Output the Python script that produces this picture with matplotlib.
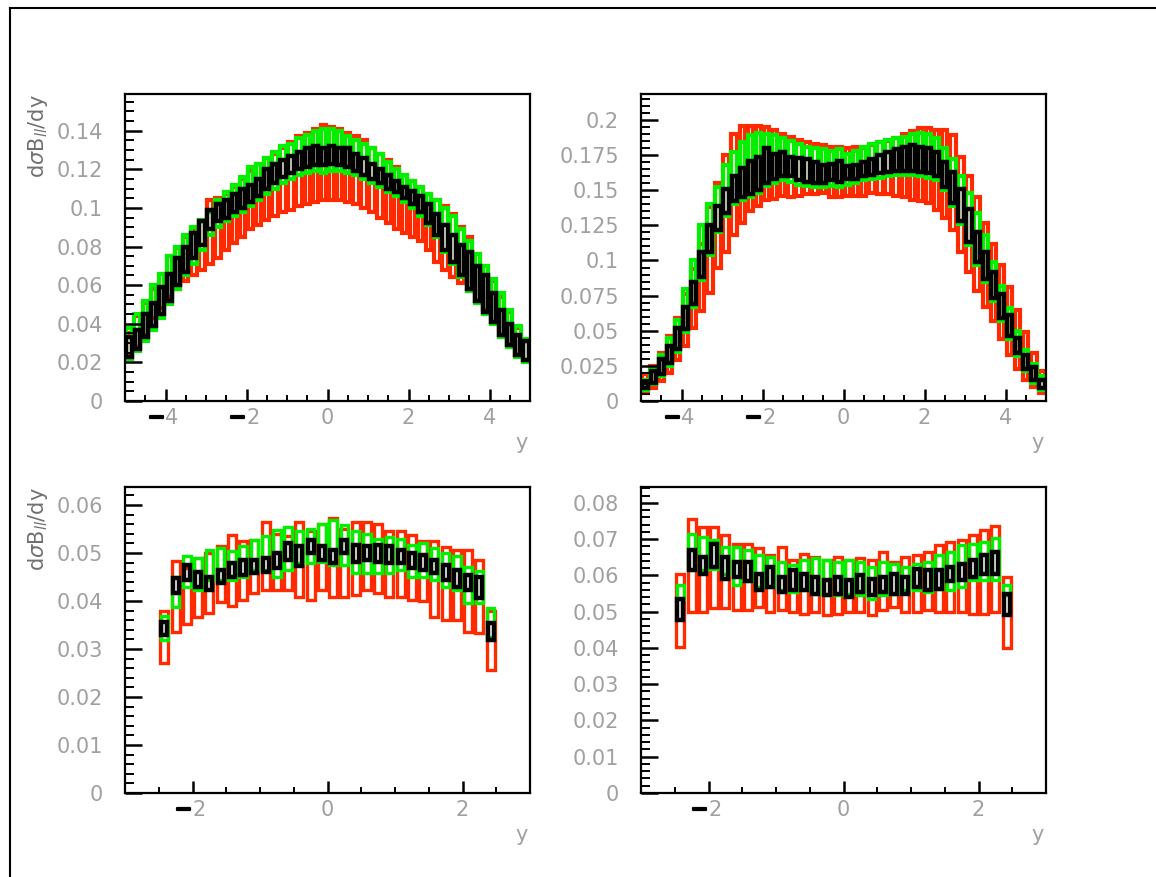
import matplotlib

matplotlib.use("Agg")
import matplotlib.patheffects as pe
import matplotlib.pyplot as plt
import matplotlib.transforms as mtrans
import numpy as np
from matplotlib.lines import Line2D
from matplotlib.ticker import FuncFormatter, MultipleLocator

W, H = 1156, 877
RED, GREEN, BLACK = "#ff2a00", "#00f000", "#000000"
LABEL_GREY = "#a0a0a0"

# --- binning ---------------------------------------------------------------
TOP_EDGES = np.linspace(-5, 5, 51)       # 50 bins of 0.2
BOT_EDGES = np.linspace(-2.5, 2.5, 31)   # 30 bins of 1/6

# --- top-left panel (lower / upper edge of each box) -----------------------
TL_RED_LO = [0.024, 0.028, 0.034, 0.043, 0.048, 0.054, 0.058, 0.062, 0.065, 0.068,
             0.071, 0.074, 0.078, 0.082, 0.085, 0.089, 0.091, 0.094, 0.096, 0.098,
             0.099, 0.101, 0.102, 0.103, 0.104, 0.104, 0.104, 0.103, 0.102, 0.100,
             0.098, 0.095, 0.092, 0.089, 0.087, 0.085, 0.083, 0.078, 0.072, 0.068,
             0.064, 0.061, 0.057, 0.052, 0.047, 0.041, 0.034, 0.029, 0.024, 0.021]
TL_RED_HI = [0.035, 0.044, 0.051, 0.058, 0.066, 0.075, 0.079, 0.085, 0.089, 0.093,
             0.104, 0.105, 0.107, 0.111, 0.115, 0.119, 0.123, 0.126, 0.128, 0.131,
             0.134, 0.137, 0.139, 0.141, 0.143, 0.142, 0.141, 0.139, 0.137, 0.135,
             0.131, 0.128, 0.125, 0.121, 0.117, 0.114, 0.111, 0.107, 0.104, 0.101,
             0.097, 0.090, 0.085, 0.076, 0.070, 0.062, 0.054, 0.046, 0.038, 0.031]
TL_GRN_LO = [0.022, 0.026, 0.031, 0.037, 0.043, 0.050, 0.058, 0.065, 0.071, 0.078,
             0.086, 0.090, 0.093, 0.096, 0.098, 0.101, 0.104, 0.107, 0.110, 0.113,
             0.115, 0.117, 0.118, 0.119, 0.118, 0.119, 0.119, 0.118, 0.117, 0.115,
             0.113, 0.111, 0.108, 0.106, 0.103, 0.100, 0.096, 0.091, 0.085, 0.077,
             0.071, 0.064, 0.057, 0.051, 0.045, 0.040, 0.033, 0.028, 0.023, 0.020]
TL_GRN_HI = [0.038, 0.045, 0.052, 0.060, 0.066, 0.075, 0.080, 0.086, 0.090, 0.094,
             0.098, 0.104, 0.108, 0.112, 0.116, 0.121, 0.123, 0.126, 0.129, 0.132,
             0.133, 0.136, 0.138, 0.140, 0.141, 0.141, 0.140, 0.137, 0.135, 0.133,
             0.131, 0.128, 0.124, 0.120, 0.117, 0.114, 0.111, 0.107, 0.104, 0.100,
             0.096, 0.089, 0.083, 0.076, 0.070, 0.063, 0.056, 0.047, 0.039, 0.032]
TL_BLK_LO = [0.023, 0.027, 0.033, 0.039, 0.045, 0.052, 0.060, 0.067, 0.074, 0.081,
             0.089, 0.093, 0.095, 0.098, 0.100, 0.103, 0.106, 0.110, 0.113, 0.116,
             0.118, 0.120, 0.121, 0.122, 0.122, 0.123, 0.122, 0.121, 0.119, 0.117,
             0.115, 0.113, 0.110, 0.108, 0.105, 0.102, 0.098, 0.092, 0.086, 0.078,
             0.072, 0.065, 0.058, 0.052, 0.046, 0.041, 0.034, 0.029, 0.024, 0.021]
TL_BLK_HI = [0.033, 0.037, 0.045, 0.051, 0.059, 0.066, 0.074, 0.080, 0.087, 0.093,
             0.099, 0.102, 0.104, 0.107, 0.110, 0.112, 0.115, 0.120, 0.123, 0.125,
             0.127, 0.129, 0.131, 0.132, 0.131, 0.132, 0.131, 0.131, 0.128, 0.126,
             0.123, 0.120, 0.117, 0.114, 0.111, 0.109, 0.106, 0.102, 0.097, 0.091,
             0.086, 0.081, 0.077, 0.070, 0.065, 0.056, 0.047, 0.040, 0.034, 0.031]

# --- top-right panel -------------------------------------------------------
TR_RED_LO = [0.006, 0.009, 0.014, 0.020, 0.029, 0.039, 0.052, 0.064, 0.077, 0.095,
             0.106, 0.118, 0.127, 0.135, 0.139, 0.143, 0.144, 0.146, 0.145, 0.146,
             0.147, 0.147, 0.148, 0.145, 0.145, 0.146, 0.146, 0.146, 0.148, 0.147,
             0.147, 0.146, 0.145, 0.143, 0.142, 0.141, 0.136, 0.130, 0.122, 0.106,
             0.092, 0.078, 0.067, 0.057, 0.044, 0.033, 0.023, 0.015, 0.010, 0.006]
TR_RED_HI = [0.019, 0.025, 0.034, 0.046, 0.059, 0.076, 0.094, 0.112, 0.138, 0.155,
             0.175, 0.190, 0.196, 0.196, 0.196, 0.195, 0.193, 0.190, 0.188, 0.186,
             0.184, 0.183, 0.182, 0.181, 0.181, 0.180, 0.181, 0.180, 0.182, 0.184,
             0.185, 0.187, 0.190, 0.192, 0.194, 0.194, 0.193, 0.193, 0.189, 0.174,
             0.160, 0.145, 0.127, 0.112, 0.097, 0.081, 0.065, 0.049, 0.034, 0.021]
TR_GRN_LO = [0.008, 0.012, 0.018, 0.025, 0.035, 0.049, 0.067, 0.086, 0.104, 0.120,
             0.132, 0.140, 0.143, 0.145, 0.148, 0.153, 0.155, 0.157, 0.156, 0.154,
             0.153, 0.152, 0.152, 0.153, 0.152, 0.154, 0.155, 0.157, 0.158, 0.159,
             0.160, 0.161, 0.161, 0.161, 0.160, 0.159, 0.157, 0.150, 0.139, 0.126,
             0.111, 0.097, 0.085, 0.071, 0.057, 0.044, 0.032, 0.021, 0.013, 0.008]
TR_GRN_HI = [0.015, 0.023, 0.033, 0.045, 0.058, 0.080, 0.100, 0.125, 0.140, 0.152,
             0.168, 0.177, 0.184, 0.189, 0.191, 0.190, 0.189, 0.187, 0.185, 0.183,
             0.181, 0.180, 0.179, 0.178, 0.179, 0.176, 0.178, 0.181, 0.183, 0.184,
             0.186, 0.187, 0.188, 0.190, 0.191, 0.190, 0.187, 0.180, 0.172, 0.160,
             0.148, 0.134, 0.118, 0.099, 0.082, 0.066, 0.050, 0.036, 0.026, 0.018]
TR_BLK_LO = [0.009, 0.013, 0.019, 0.027, 0.037, 0.051, 0.069, 0.088, 0.106, 0.122,
             0.134, 0.142, 0.145, 0.147, 0.150, 0.155, 0.158, 0.160, 0.160, 0.157,
             0.156, 0.155, 0.155, 0.157, 0.156, 0.158, 0.158, 0.160, 0.161, 0.162,
             0.163, 0.164, 0.164, 0.164, 0.163, 0.162, 0.160, 0.152, 0.141, 0.128,
             0.113, 0.099, 0.087, 0.073, 0.059, 0.046, 0.034, 0.023, 0.015, 0.009]
TR_BLK_HI = [0.013, 0.021, 0.030, 0.039, 0.052, 0.067, 0.085, 0.106, 0.125, 0.139,
             0.151, 0.160, 0.166, 0.171, 0.174, 0.180, 0.176, 0.177, 0.174, 0.173,
             0.172, 0.170, 0.168, 0.169, 0.171, 0.167, 0.168, 0.170, 0.172, 0.175,
             0.177, 0.179, 0.181, 0.182, 0.181, 0.180, 0.177, 0.170, 0.163, 0.151,
             0.137, 0.120, 0.106, 0.092, 0.076, 0.061, 0.045, 0.033, 0.024, 0.015]

# --- bottom-left panel -----------------------------------------------------
BL_RED_LO = [0.0270, 0.0336, 0.0353, 0.0367, 0.0374, 0.0398, 0.0390, 0.0402, 0.0416, 0.0423,
             0.0423, 0.0423, 0.0409, 0.0402, 0.0423, 0.0409, 0.0409, 0.0413, 0.0423, 0.0416,
             0.0409, 0.0409, 0.0402, 0.0399, 0.0367, 0.0360, 0.0360, 0.0336, 0.0333, 0.0256]
BL_RED_HI = [0.0380, 0.0483, 0.0468, 0.0490, 0.0500, 0.0515, 0.0537, 0.0525, 0.0527, 0.0565,
             0.0540, 0.0535, 0.0565, 0.0545, 0.0560, 0.0572, 0.0550, 0.0565, 0.0565, 0.0560,
             0.0545, 0.0545, 0.0537, 0.0524, 0.0524, 0.0513, 0.0506, 0.0506, 0.0485, 0.0380]
BL_GRN_LO = [0.0319, 0.0388, 0.0430, 0.0423, 0.0444, 0.0444, 0.0444, 0.0451, 0.0465, 0.0465,
             0.0451, 0.0465, 0.0479, 0.0479, 0.0482, 0.0475, 0.0475, 0.0458, 0.0458, 0.0458,
             0.0458, 0.0465, 0.0451, 0.0451, 0.0444, 0.0430, 0.0423, 0.0395, 0.0395, 0.0326]
BL_GRN_HI = [0.0368, 0.0450, 0.0493, 0.0490, 0.0507, 0.0510, 0.0505, 0.0515, 0.0527, 0.0535,
             0.0548, 0.0555, 0.0545, 0.0550, 0.0560, 0.0569, 0.0558, 0.0545, 0.0540, 0.0530,
             0.0534, 0.0530, 0.0517, 0.0520, 0.0510, 0.0500, 0.0493, 0.0470, 0.0462, 0.0385]
BL_BLK_LO = [0.0329, 0.0416, 0.0444, 0.0430, 0.0423, 0.0437, 0.0451, 0.0454, 0.0458, 0.0461,
             0.0468, 0.0486, 0.0472, 0.0500, 0.0486, 0.0479, 0.0500, 0.0482, 0.0486, 0.0482,
             0.0479, 0.0479, 0.0468, 0.0465, 0.0458, 0.0444, 0.0430, 0.0423, 0.0406, 0.0319]
BL_BLK_HI = [0.0357, 0.0447, 0.0475, 0.0461, 0.0451, 0.0465, 0.0479, 0.0486, 0.0486, 0.0489,
             0.0500, 0.0521, 0.0514, 0.0528, 0.0514, 0.0507, 0.0528, 0.0517, 0.0514, 0.0517,
             0.0514, 0.0507, 0.0500, 0.0496, 0.0486, 0.0475, 0.0465, 0.0454, 0.0451, 0.0354]

# --- bottom-right panel ----------------------------------------------------
BR_RED_LO = [0.0403, 0.0500, 0.0500, 0.0509, 0.0509, 0.0504, 0.0504, 0.0513, 0.0500, 0.0504,
             0.0500, 0.0495, 0.0500, 0.0491, 0.0495, 0.0500, 0.0500, 0.0491, 0.0504, 0.0513,
             0.0500, 0.0500, 0.0504, 0.0500, 0.0500, 0.0500, 0.0495, 0.0495, 0.0500, 0.0399]
BR_RED_HI = [0.0605, 0.0757, 0.0734, 0.0734, 0.0712, 0.0688, 0.0688, 0.0675, 0.0656, 0.0679,
             0.0643, 0.0660, 0.0651, 0.0642, 0.0651, 0.0642, 0.0647, 0.0642, 0.0665, 0.0638,
             0.0651, 0.0656, 0.0665, 0.0683, 0.0692, 0.0697, 0.0711, 0.0725, 0.0737, 0.0596]
BR_GRN_LO = [0.0536, 0.0614, 0.0614, 0.0619, 0.0605, 0.0573, 0.0586, 0.0568, 0.0568, 0.0559,
             0.0555, 0.0559, 0.0550, 0.0545, 0.0545, 0.0550, 0.0545, 0.0536, 0.0545, 0.0550,
             0.0559, 0.0559, 0.0555, 0.0564, 0.0559, 0.0568, 0.0587, 0.0587, 0.0587, 0.0545]
BR_GRN_HI = [0.0573, 0.0715, 0.0706, 0.0697, 0.0679, 0.0679, 0.0669, 0.0656, 0.0651, 0.0637,
             0.0628, 0.0642, 0.0647, 0.0642, 0.0637, 0.0642, 0.0637, 0.0624, 0.0637, 0.0633,
             0.0624, 0.0633, 0.0637, 0.0656, 0.0665, 0.0683, 0.0688, 0.0693, 0.0702, 0.0573]
BR_BLK_LO = [0.0477, 0.0614, 0.0605, 0.0623, 0.0591, 0.0596, 0.0586, 0.0559, 0.0568, 0.0555,
             0.0559, 0.0559, 0.0550, 0.0545, 0.0550, 0.0541, 0.0555, 0.0545, 0.0555, 0.0550,
             0.0550, 0.0568, 0.0559, 0.0564, 0.0586, 0.0587, 0.0596, 0.0605, 0.0605, 0.0491]
BR_BLK_HI = [0.0536, 0.0669, 0.0651, 0.0688, 0.0651, 0.0637, 0.0637, 0.0605, 0.0623, 0.0596,
             0.0614, 0.0605, 0.0596, 0.0587, 0.0596, 0.0587, 0.0600, 0.0591, 0.0596, 0.0605,
             0.0596, 0.0619, 0.0614, 0.0614, 0.0623, 0.0633, 0.0642, 0.0656, 0.0665, 0.0550]

YLABEL = r"d$\sigma$B$_{ll}$/dy"
X_TICKS = [-4, -2, 0, 2, 4]
AX_PX = 405      # axes width in pixels
PT = 100 / 72    # pixels per point
FS = 15

# box outline (pt) and open interior (px) for red, green, black
TOP_STYLE = [(3.0, 1.2), (3.0, 1.2), (3.2, 0.8)]
BOT_STYLE = [(2.4, 4.6), (2.4, 4.2), (3.2, 1.8)]


def fmt(v, _pos):
    return f"{round(v, 4):g}"


def draw_panel(rect, edges, series, style, xlim, ylim, ymajor, yminor, ylabel):
    ax = fig.add_axes(rect)
    edges = np.asarray(edges)
    centers = 0.5 * (edges[1:] + edges[:-1])
    px_per_unit = AX_PX / (xlim[1] - xlim[0])
    for (lo, hi), color, (lw, gap) in zip(series, (RED, GREEN, BLACK), style):
        width = (lw * PT + gap) / px_per_unit
        lo = np.asarray(lo)
        ax.bar(centers, np.asarray(hi) - lo, bottom=lo, width=width, fill=False,
               edgecolor=color, linewidth=lw, joinstyle="miter")
    ax.set_xlim(*xlim)
    ax.set_ylim(*ylim)
    ax.xaxis.set_major_locator(MultipleLocator(2))
    ax.xaxis.set_minor_locator(MultipleLocator(0.5))
    ax.yaxis.set_major_locator(MultipleLocator(ymajor))
    ax.yaxis.set_minor_locator(MultipleLocator(yminor))
    ax.yaxis.set_major_formatter(FuncFormatter(fmt))
    for s in ax.spines.values():
        s.set_linewidth(1.6)
    ax.tick_params(which="both", direction="in", top=False, right=False,
                   labelsize=FS, labelcolor=LABEL_GREY, labelbottom=False)
    ax.tick_params(axis="y", which="major", length=12, width=1.8, pad=16)
    ax.tick_params(axis="y", which="minor", length=6.5, width=1.4)
    ax.tick_params(axis="x", which="major", length=8.5, width=1.8)
    ax.tick_params(axis="x", which="minor", length=4.5, width=1.4)

    # x tick labels: grey digits, ROOT-style heavy black minus
    below = mtrans.blended_transform_factory(ax.transData, ax.transAxes) + \
        mtrans.ScaledTranslation(0, -0.065, fig.dpi_scale_trans)
    for t in X_TICKS:
        if not xlim[0] <= t <= xlim[1]:
            continue
        if t < 0:
            ax.text(t, 0, f"{-t:g}", transform=below, fontsize=FS, color=LABEL_GREY,
                    ha="left", va="top")
            ax.text(t, 0, "\u2212", transform=below, fontsize=FS, color="black",
                    fontweight="bold", ha="right", va="top",
                    path_effects=[pe.withStroke(linewidth=1.6, foreground="black")])
        else:
            ax.text(t, 0, f"{t:g}", transform=below, fontsize=FS, color=LABEL_GREY,
                    ha="center", va="top")

    ax.set_xlabel("y", loc="right", fontsize=FS, color=LABEL_GREY)
    ax.xaxis.set_label_coords(0.995, -0.105)
    if ylabel:
        ax.set_ylabel(ylabel, loc="top", fontsize=FS, color="#707070")
        ax.yaxis.set_label_coords(-0.186, 1.0)
    return ax


fig = plt.figure(figsize=(W / 100, H / 100), dpi=100)

top_h, bot_h = 307 / H, 306 / H
draw_panel((125 / W, 1 - 401 / H, AX_PX / W, top_h), TOP_EDGES,
           [(TL_RED_LO, TL_RED_HI), (TL_GRN_LO, TL_GRN_HI), (TL_BLK_LO, TL_BLK_HI)],
           TOP_STYLE, (-5, 5), (0, 0.159), 0.02, 0.005, YLABEL)
draw_panel((641 / W, 1 - 401 / H, AX_PX / W, top_h), TOP_EDGES,
           [(TR_RED_LO, TR_RED_HI), (TR_GRN_LO, TR_GRN_HI), (TR_BLK_LO, TR_BLK_HI)],
           TOP_STYLE, (-5, 5), (0, 0.2185), 0.025, 0.005, None)
draw_panel((125 / W, 1 - 793 / H, AX_PX / W, bot_h), BOT_EDGES,
           [(BL_RED_LO, BL_RED_HI), (BL_GRN_LO, BL_GRN_HI), (BL_BLK_LO, BL_BLK_HI)],
           BOT_STYLE, (-3, 3), (0, 0.06375), 0.01, 0.002, YLABEL)
draw_panel((641 / W, 1 - 793 / H, AX_PX / W, bot_h), BOT_EDGES,
           [(BR_RED_LO, BR_RED_HI), (BR_GRN_LO, BR_GRN_HI), (BR_BLK_LO, BR_BLK_HI)],
           BOT_STYLE, (-3, 3), (0, 0.0844), 0.01, 0.002, None)

# canvas frame (ROOT pad border)
fig.add_artist(Line2D([10 / W, 10 / W], [0, 1 - 8 / H], color="black", lw=1.5))
fig.add_artist(Line2D([10 / W, 1], [1 - 8 / H, 1 - 8 / H], color="black", lw=1.5))

fig.savefig("out.png", dpi=100)
